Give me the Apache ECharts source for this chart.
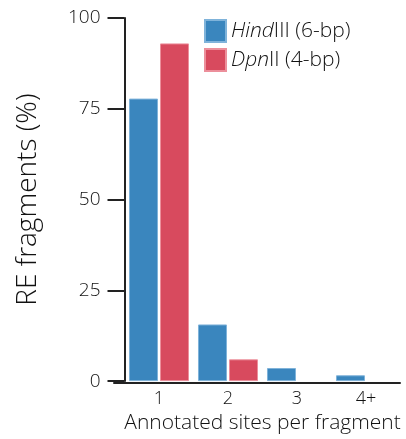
<!DOCTYPE html>
<html>
<head>
<meta charset="utf-8">
<script src="https://cdn.jsdelivr.net/npm/echarts@6/dist/echarts.min.js"></script>
<style>
  html, body { margin: 0; padding: 0; background: #fff; }
  #chart { width: 406px; height: 439px; }
</style>
</head>
<body>
<div id="chart"></div>
<script>
// Share of restriction-enzyme fragments by number of annotated sites
const categories = ['1', '2', '3', '4+'];
const hindIII = [77.8, 15.6, 3.6, 1.6];
const dpnII = [93.0, 6.0, 0, 0];
const yTicks = [0, 25, 50, 75, 100];

const FONT = '"Open Sans"';
const WEIGHT = 300;
const INK = '#111';
const BLUE = '#3a86be';
const RED = '#d84a5e';

// Zero-height bars get no outline so they do not leave a sliver on the axis
function barData(values) {
  return values.map(function (v) {
    return v === 0 ? { value: v, itemStyle: { borderWidth: 0 } } : v;
  });
}

const chart = echarts.init(document.getElementById('chart'), null, { renderer: 'canvas' });

chart.setOption({
  animation: false,
  textStyle: { fontFamily: FONT, fontWeight: WEIGHT, color: INK },
  grid: [
    { left: 124.5, right: 5.5, top: 18, bottom: 56 },
    { left: 114, right: 6, top: 18, bottom: 56 }
  ],
  legend: {
    orient: 'vertical',
    left: 204,
    top: 19,
    padding: 0,
    itemWidth: 21,
    itemHeight: 22,
    itemGap: 5,
    icon: 'rect',
    textStyle: {
      fontFamily: FONT,
      fontWeight: WEIGHT,
      fontSize: 21,
      color: INK,
      rich: {
        // genus-derived enzyme prefix is set in italics
        i: { fontFamily: FONT, fontWeight: WEIGHT, fontSize: 21, fontStyle: 'italic', color: INK },
        n: { fontFamily: FONT, fontWeight: WEIGHT, fontSize: 21, color: INK }
      }
    },
    formatter: function (name) {
      const m = name.match(/^([A-Z][a-z]+)(.*)$/);
      return m ? '{i|' + m[1] + '}{n|' + m[2] + '}' : name;
    },
    data: ['HindIII (6-bp)', 'DpnII (4-bp)']
  },
  xAxis: [
    {
      type: 'category',
      gridIndex: 0,
      data: categories,
      axisLine: { show: false },
      axisTick: { show: false },
      axisLabel: { fontFamily: FONT, fontWeight: WEIGHT, fontSize: 18, color: INK, margin: 9 },
      name: 'Annotated sites per fragment',
      nameLocation: 'middle',
      nameGap: 27,
      nameTextStyle: { fontFamily: FONT, fontWeight: WEIGHT, fontSize: 21, color: INK }
    },
    {
      type: 'value',
      gridIndex: 1,
      min: 0,
      max: 1,
      axisLine: { show: true, lineStyle: { color: '#222', width: 2 } },
      axisTick: { show: false },
      axisLabel: { show: false },
      splitLine: { show: false }
    }
  ],
  yAxis: [
    {
      type: 'value',
      gridIndex: 0,
      min: 0,
      max: 100,
      interval: 25,
      axisLine: { show: true, lineStyle: { color: '#222', width: 2 } },
      axisTick: { show: true, length: 17, lineStyle: { color: '#222', width: 2 } },
      axisLabel: {
        fontFamily: FONT,
        fontWeight: WEIGHT,
        fontSize: 19,
        color: INK,
        margin: 24,
        formatter: function (v) { return yTicks.indexOf(v) >= 0 ? String(v) : ''; }
      },
      splitLine: { show: false },
      name: 'RE fragments (%)',
      nameLocation: 'middle',
      nameGap: 82,
      nameTextStyle: { fontFamily: FONT, fontWeight: WEIGHT, fontSize: 28, color: INK }
    },
    {
      type: 'value',
      gridIndex: 1,
      min: 0,
      max: 1,
      axisLine: { show: false },
      axisTick: { show: false },
      axisLabel: { show: false },
      splitLine: { show: false }
    }
  ],
  series: [
    {
      name: 'HindIII (6-bp)',
      type: 'bar',
      xAxisIndex: 0,
      yAxisIndex: 0,
      data: barData(hindIII),
      barWidth: 29,
      barGap: '7%',
      itemStyle: { color: BLUE, borderColor: '#7fb3da', borderWidth: 1 }
    },
    {
      name: 'DpnII (4-bp)',
      type: 'bar',
      xAxisIndex: 0,
      yAxisIndex: 0,
      data: barData(dpnII),
      barWidth: 29,
      barGap: '7%',
      itemStyle: { color: RED, borderColor: '#ec8f9b', borderWidth: 1 }
    }
  ]
});
</script>
</body>
</html>
